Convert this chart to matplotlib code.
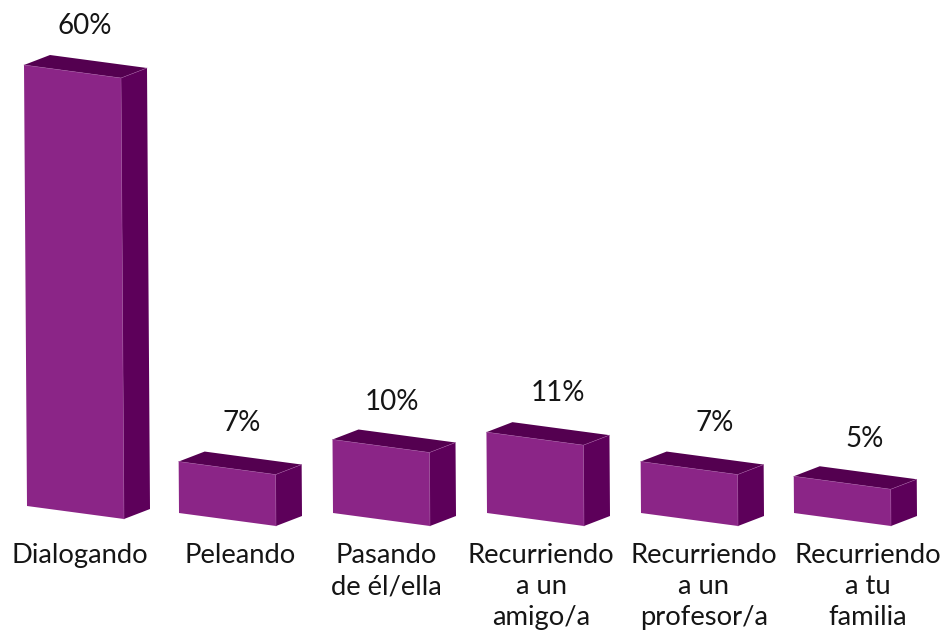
import matplotlib
matplotlib.use("Agg")
from matplotlib import pyplot as plt
from matplotlib.patches import Polygon

categories = ["Dialogando", "Peleando", "Pasando\nde él/ella", "Recurriendo\na un\namigo/a",
              "Recurriendo\na un\nprofesor/a", "Recurriendo\na tu\nfamilia"]
values = [60, 7, 10, 11, 7, 5]
value_labels = ["60%", "7%", "10%", "11%", "7%", "5%"]

# layout, in pixels of the original picture
bar_left = [27, 179, 333, 487, 641, 794]
bar_lift = [7, 0, 0, 0, 0, 0]
label_x = [80, 240, 386, 541, 704, 868]
value_x = [85, 242, 392, 558, 715, 865]
value_gap = [31, 31, 30, 31, 31, 29]

px_per_value = 7.35
base_px = 513
bar_w = 97
skew = 13
depth_x = 26
depth_y = 10
lean = 0.0068

front_color = "#8B2587"
top_color = "#540050"
side_color = "#5D005A"
edge_color = "#9A4C98"
text_color = "#151515"

plt.rcParams["font.family"] = ["Lato", "DejaVu Sans"]

fig = plt.figure(figsize=(9.45, 6.35), dpi=100)
ax = fig.add_axes([0, 0, 1, 1])
ax.set_xlim(0, 945)
# y is in value units, 0 sits on the baseline of the bars
ax.set_ylim(-(635 - base_px) / px_per_value, base_px / px_per_value)
ax.axis("off")

dy = 1 / px_per_value

for i, v in enumerate(values):
    x0 = bar_left[i]
    y0 = bar_lift[i] * dy
    # top of the bar leans a little to the left
    shift = v * px_per_value * lean
    bl = (x0, y0)
    br = (x0 + bar_w, y0 - skew * dy)
    tl = (x0 - shift, y0 + v)
    tr = (x0 + bar_w - shift, y0 + v - skew * dy)
    bbr = (br[0] + depth_x, br[1] + depth_y * dy)
    ttr = (tr[0] + depth_x, tr[1] + depth_y * dy)
    ttl = (tl[0] + depth_x, tl[1] + depth_y * dy)

    ax.add_patch(Polygon([br, tr, ttr, bbr], facecolor=side_color, edgecolor="none"))
    ax.add_patch(Polygon([tl, tr, ttr, ttl], facecolor=top_color, edgecolor="none"))
    ax.add_patch(Polygon([bl, br, tr, tl], facecolor=front_color, edgecolor="none"))
    ax.plot([tl[0], tr[0], ttr[0]], [tl[1], tr[1], ttr[1]], color=edge_color, lw=0.4)
    ax.plot([tr[0], br[0]], [tr[1], br[1]], color=edge_color, lw=0.4)

    ax.text(value_x[i], y0 + v + value_gap[i] * dy, value_labels[i], ha="center", va="baseline",
            fontsize=20, color=text_color)
    ax.text(label_x[i], (base_px - 543) * dy, categories[i], ha="center", va="top",
            fontsize=19.7, color=text_color, linespacing=1.31)

fig.savefig("out.png", dpi=100, facecolor="white")
